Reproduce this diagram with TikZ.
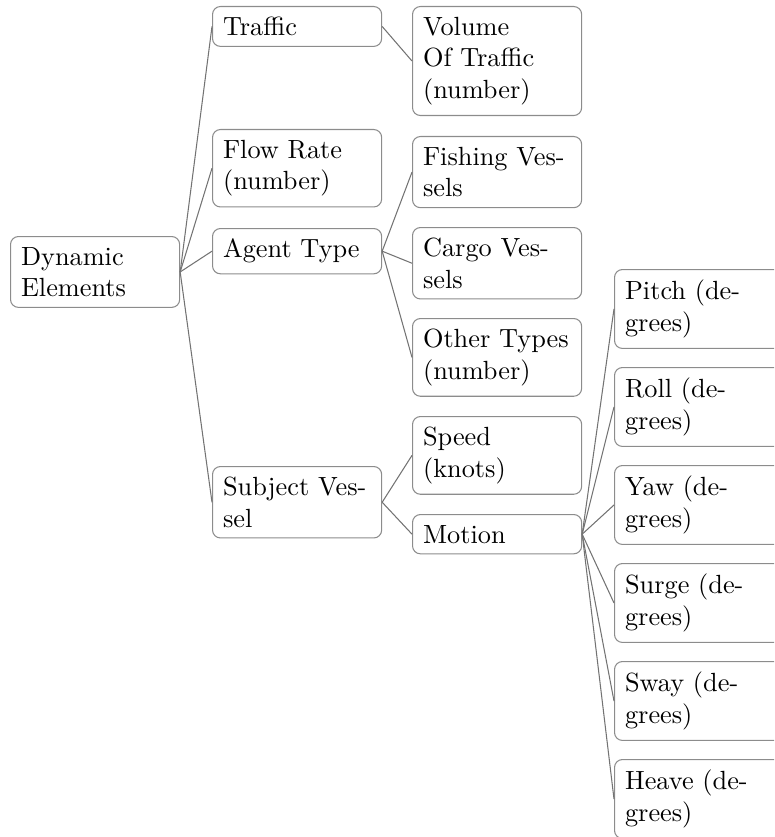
\documentclass[tikz,border=0pt]{standalone}
\begin{document}
\begin{tikzpicture}[
  x=0.3802pt, y=-0.3802pt,
  box/.style={draw=black!45, rounded corners=3pt, line width=0.4pt,
    anchor=north west, align=left, text width=56.3pt, inner sep=4pt,
    font=\fontsize{10}{12}\selectfont},
  link/.style={draw=black!55, line width=0.4pt}
]
\useasboundingbox (0,0) rectangle (774,837);
\clip (0,0) rectangle (774,837);

% root and first level
\node[box] (root)    at (10,236)  {Dynamic\\Elements};
\node[box] (traffic) at (212,6)   {Traffic};
\node[box] (flow)    at (212,129) {Flow Rate\\(number)};
\node[box] (agent)   at (212,228) {Agent Type};
\node[box] (subject) at (212,466) {Subject Ves-\\sel};

% second level
\node[box] (volume)  at (412,6)   {Volume\\Of Traffic\\(number)};
\node[box] (fishing) at (412,136) {Fishing Ves-\\sels};
\node[box] (cargo)   at (412,227) {Cargo Ves-\\sels};
\node[box] (other)   at (412,318) {Other Types\\(number)};
\node[box] (speed)   at (412,416) {Speed\\(knots)};
\node[box] (motion)  at (412,514) {Motion};

% motion components
\node[box] (pitch) at (614,269) {Pitch (de-\\grees)};
\node[box] (roll)  at (614,367) {Roll (de-\\grees)};
\node[box] (yaw)   at (614,465) {Yaw (de-\\grees)};
\node[box] (surge) at (614,563) {Surge (de-\\grees)};
\node[box] (sway)  at (614,661) {Sway (de-\\grees)};
\node[box] (heave) at (614,759) {Heave (de-\\grees)};

% connectors
\foreach \c in {traffic,flow,agent,subject}
  \draw[link] (root.east) -- (\c.west);
\draw[link] (traffic.east) -- (volume.west);
\foreach \c in {fishing,cargo,other}
  \draw[link] (agent.east) -- (\c.west);
\foreach \c in {speed,motion}
  \draw[link] (subject.east) -- (\c.west);
\foreach \c in {pitch,roll,yaw,surge,sway,heave}
  \draw[link] (motion.east) -- (\c.west);
\end{tikzpicture}
\end{document}
